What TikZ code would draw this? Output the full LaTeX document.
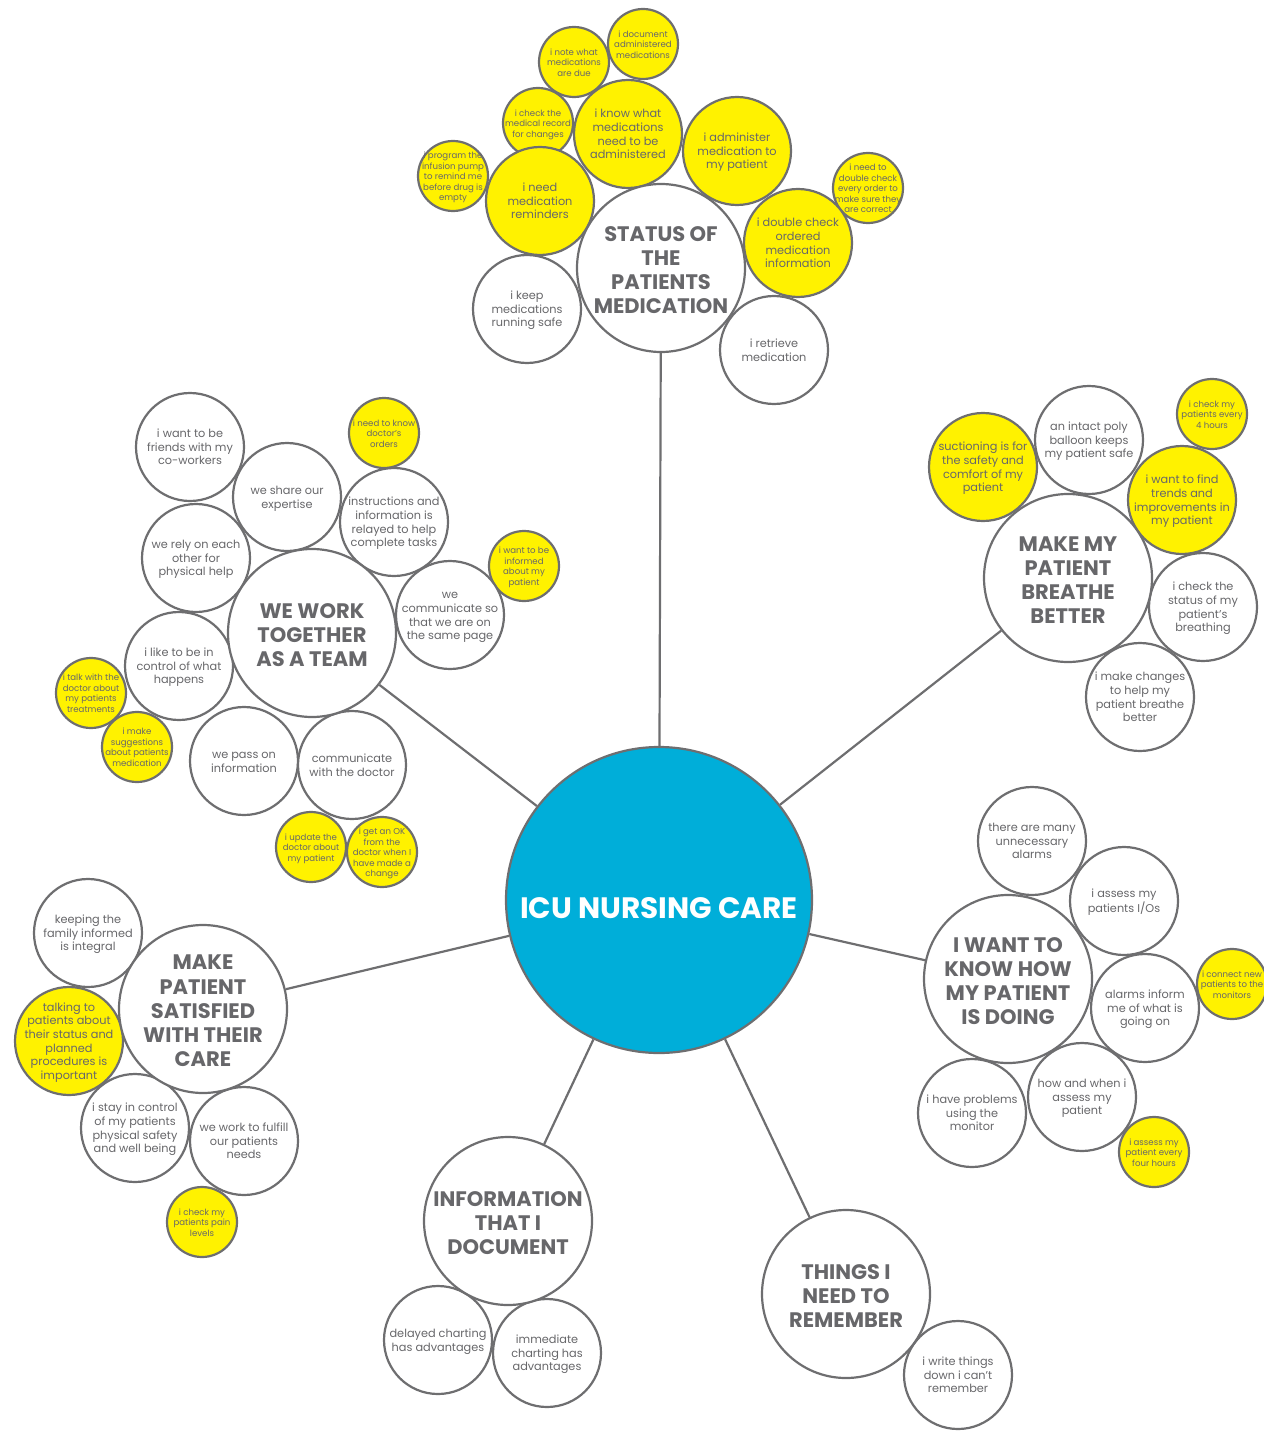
\documentclass[tikz,border=0pt]{standalone}
\usepackage{fontspec}
\setmainfont{Poppins}
\definecolor{gline}{HTML}{6E6E70}
\definecolor{gtext}{HTML}{67676A}
\definecolor{yel}{HTML}{FFF200}
\definecolor{cyanhub}{HTML}{00AED9}
% centred stack of lines in a zero-width box, so text never enlarges its circle;
% \bubdrop lowers the lines a little without changing the box extent
\def\bubdrop{0pt}
\newcommand\bub[1]{\raisebox{-\bubdrop}[\height][\depth]{\makebox[0pt]{\begin{tabular}{@{}c@{}}#1\end{tabular}}}}
\begin{document}
\begin{tikzpicture}[x=1pt,y=-1pt,
  bubble/.style={circle, draw=gline, line width=2.2pt, inner sep=0pt, text=gtext},
  hub/.style={bubble, fill=cyanhub, minimum size=306, text=white,
    font=\bfseries\fontsize{29.5}{32}\selectfont\def\bubdrop{12pt}},
  topic/.style={bubble, fill=white, minimum size=168,
    font=\bfseries\fontsize{21}{24.2}\selectfont\def\bubdrop{4.5pt}},
  idea/.style={bubble, fill=white, minimum size=108,
    font=\fontsize{11.3}{13.6}\selectfont\def\bubdrop{1.5pt}},
  ideay/.style={idea, fill=yel},
  note/.style={bubble, fill=yel, minimum size=70,
    font=\fontsize{8.6}{10.5}\selectfont\def\bubdrop{1.5pt}},
  conn/.style={draw=gline, line width=2.2pt}]
\useasboundingbox (0,0) rectangle (1263,1431);

% ---- hub ----
\node[hub] (icu) at (659,900) {\bub{ICU NURSING CARE}};

% ---- medication ----
\node[note] (note) at (574,62) {\bub{i note what\\medications\\are due}};
\node[note] (docmed) at (643,44) {\bub{i document\\administered\\medications}};
\node[note] (checkrec) at (538,123) {\bub{i check the\\medical record\\for changes}};
\node[ideay] (knowmed) at (628,134) {\bub{i know what\\medications\\need to be\\administered}};
\node[ideay] (admin) at (737,151) {\bub{i administer\\medication to\\my patient}};
\node[note] (dblorder) at (868,188) {\bub{i need to\\double check\\every order to\\make sure they\\are correct}};
\node[note] (pump) at (453,176) {\bub{i program the\\infusion pump\\to remind me\\before drug is\\empty}};
\node[ideay] (remind) at (540,201) {\bub{i need\\medication\\reminders}};
\node[ideay] (dblinfo) at (798,243) {\bub{i double check\\ordered\\medication\\information}};
\node[idea] (keep) at (527,309) {\bub{i keep\\medications\\running safe}};
\node[idea] (retrieve) at (774,350) {\bub{i retrieve\\medication}};
\node[topic] (status) at (661,268) {\bub{STATUS OF\\THE\\PATIENTS\\MEDICATION}};

% ---- team ----
\node[idea] (friends) at (190,447) {\bub{i want to be\\friends with my\\co-workers}};
\node[idea] (share) at (287,497) {\bub{we share our\\expertise}};
\node[note] (orders) at (384,433) {\bub{i need to know\\doctor's\\orders}};
\node[idea] (relay) at (394,522) {\bub{instructions and\\information is\\relayed to help\\complete tasks}};
\node[idea] (rely) at (196,558) {\bub{we rely on each\\other for\\physical help}};
\node[note] (informed) at (524,566) {\bub{i want to be\\informed\\about my\\patient}};
\node[idea] (samepage) at (450,615) {\bub{we\\communicate so\\that we are on\\the same page}};
\node[idea] (control) at (179,666) {\bub{i like to be in\\control of what\\happens}};
\node[note] (talk) at (91,693) {\bub{i talk with the\\doctor about\\my patients\\treatments}};
\node[note] (suggest) at (137,747) {\bub{i make\\suggestions\\about patients\\medication}};
\node[idea] (pass) at (244,761) {\bub{we pass on\\information}};
\node[idea] (doctor) at (352,765) {\bub{communicate\\with the doctor}};
\node[note] (update) at (311,847) {\bub{i update the\\doctor about\\my patient}};
\node[note] (okay) at (382,852) {\bub{i get an OK\\from the\\doctor when I\\have made a\\change}};
\node[topic] (team) at (312,633) {\bub{WE WORK\\TOGETHER\\AS A TEAM}};

% ---- breathing ----
\node[ideay] (suction) at (983,467) {\bub{suctioning is for\\the safety and\\comfort of my\\patient}};
\node[idea] (balloon) at (1089,440) {\bub{an intact poly\\balloon keeps\\my patient safe}};
\node[note] (fourhrs) at (1212,414) {\bub{i check my\\patients every\\4 hours}};
\node[ideay] (trends) at (1182,500) {\bub{i want to find\\trends and\\improvements in\\my patient}};
\node[idea] (statusbr) at (1203,607) {\bub{i check the\\status of my\\patient's\\breathing}};
\node[idea] (changes) at (1140,697) {\bub{i make changes\\to help my\\patient breathe\\better}};
\node[topic] (breathe) at (1068,578) {\bub{MAKE MY\\PATIENT\\BREATHE\\BETTER}};

% ---- monitoring ----
\node[idea] (alarms) at (1032,841) {\bub{there are many\\unnecessary\\alarms}};
\node[idea] (ios) at (1124,901) {\bub{i assess my\\patients I/Os}};
\node[idea] (inform) at (1145,1008) {\bub{alarms inform\\me of what is\\going on}};
\node[note] (connect) at (1232,984) {\bub{i connect new\\patients to the\\monitors}};
\node[idea] (howwhen) at (1082,1097) {\bub{how and when i\\assess my\\patient}};
\node[idea] (monitor) at (972,1113) {\bub{i have problems\\using the\\monitor}};
\node[note] (assess4) at (1154,1152) {\bub{i assess my\\patient every\\four hours}};
\node[topic] (know) at (1008,979) {\bub{I WANT TO\\KNOW HOW\\MY PATIENT\\IS DOING}};

% ---- satisfaction ----
\node[idea] (family) at (88,933) {\bub{keeping the\\family informed\\is integral}};
\node[ideay] (talking) at (69,1041) {\bub{talking to\\patients about\\their status and\\planned\\procedures is\\important}};
\node[idea] (safety) at (135,1128) {\bub{i stay in control\\of my patients\\physical safety\\and well being}};
\node[idea] (fulfill) at (244,1141) {\bub{we work to fulfill\\our patients\\needs}};
\node[note] (pain) at (202,1222) {\bub{i check my\\patients pain\\levels}};
\node[topic] (satisfied) at (203,1009) {\bub{MAKE\\PATIENT\\SATISFIED\\WITH THEIR\\CARE}};

% ---- documentation ----
\node[idea] (delayed) at (438,1340) {\bub{delayed charting\\has advantages}};
\node[idea] (immediate) at (547,1353) {\bub{immediate\\charting has\\advantages}};
\node[topic] (document) at (508,1221) {\bub{INFORMATION\\THAT I\\DOCUMENT}};

% ---- remembering ----
\node[idea] (writedown) at (958,1375) {\bub{i write things\\down i can't\\remember}};
\node[topic] (remember) at (846,1294) {\bub{THINGS I\\NEED TO\\REMEMBER}};

% ---- spokes ----
\draw[conn] (status) -- (icu);
\draw[conn] (team) -- (icu);
\draw[conn] (breathe) -- (icu);
\draw[conn] (know) -- (icu);
\draw[conn] (satisfied) -- (icu);
\draw[conn] (document) -- (icu);
\draw[conn] (remember) -- (icu);
\end{tikzpicture}
\end{document}
